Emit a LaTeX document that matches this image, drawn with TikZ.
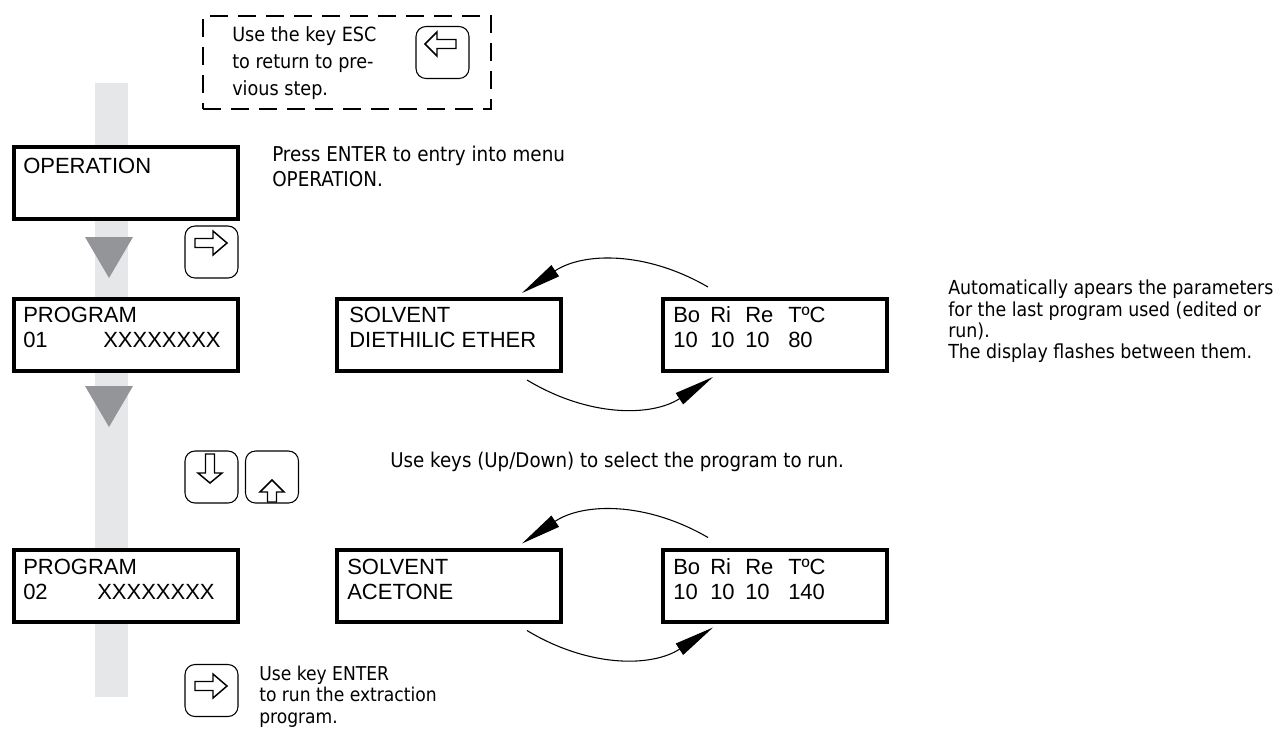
\documentclass[tikz,border=0pt]{standalone}
\usepackage{fontspec}
\setmainfont{Liberation Sans}
\newfontfamily\tahoma{DejaVu Sans Condensed}
\usetikzlibrary{arrows.meta,calc}
\definecolor{band}{RGB}{230,231,232}
\definecolor{tri}{RGB}{147,149,152}
\tikzset{
  lcd/.style={draw, fill=white, line width=3pt, minimum width=168pt, minimum height=54pt, inner sep=0pt, outer sep=0pt},
  lcdtext/.style={anchor=base west, inner sep=0pt, align=left, font=\fontsize{16.5}{18.4}\selectfont},
  note/.style={anchor=base west, inner sep=0pt, align=left, font=\tahoma\fontsize{15.2}{15.9}\selectfont},
  key/.style={draw, line width=0.8pt, rounded corners=7.5pt, minimum width=39.75pt, minimum height=39pt, inner sep=0pt},
  keyarrow/.style={draw, fill=white, line width=1.1pt, line join=miter},
  flow/.style={line width=0.8pt, -{Triangle[length=30pt,width=10pt]}},
  pics/karrow/.style n args={3}{code={\draw[keyarrow] (#1,-4.5) -- (#2,-4.5) -- (#2,-12) -- (#3,0) -- (#2,12) -- (#2,4.5) -- (#1,4.5) -- cycle;}}
}
\begin{document}
\begin{tikzpicture}[x=0.75pt,y=-0.75pt]
\useasboundingbox (0,0) rectangle (1276,729);
% grey flow band
\fill[band] (95,83) rectangle (128,697);
\fill[tri] (85,237) -- (133,237) -- (109,278) -- cycle;
\fill[tri] (85,386) -- (133,386) -- (109,427) -- cycle;

% ESC hint
\node[draw, line width=1.5pt, dash pattern=on 13.5pt off 7.5pt, minimum width=216pt, minimum height=69.75pt, inner sep=0pt] (escbox) at (347,62.5) {};
\node[note, font=\tahoma\fontsize{14.7}{20.25}\selectfont] (esctext) at (232,95) {Use the key ESC\\to return to pre-\\vious step.};
\node[key] (kesc) at (442.5,52.5) {};
\pic[rotate=180] at ($(kesc.center)+(-1,-8.5)$) {karrow={-14.5}{4.5}{16.5}};

% displays
\node[lcd] (op) at (126,182.5) {};
\node[lcdtext] (optext) at (23,173) {OPERATION};
\node[lcd] (prog1) at (126,335) {};
\node[lcdtext] (prog1text) at (23,347.5) {PROGRAM\\\makebox[60pt][l]{01}XXXXXXXX};
\node[lcd] (solv1) at (448.5,335) {};
\node[lcdtext] (solv1text) at (349,347.5) {SOLVENT\\DIETHILIC ETHER};
\node[lcd] (bo1) at (775,335) {};
\node[lcdtext] (bo1text) at (673,347.5) {\makebox[27.75pt][l]{Bo}\makebox[26.25pt][l]{Ri}\makebox[32.25pt][l]{Re}TºC\\\makebox[27.75pt][l]{10}\makebox[26.25pt][l]{10}\makebox[32.25pt][l]{10}80};
\node[lcd] (prog2) at (126,585.5) {};
\node[lcdtext] (prog2text) at (23,599.5) {PROGRAM\\\makebox[55.5pt][l]{02}XXXXXXXX};
\node[lcd] (solv2) at (448.5,585.5) {};
\node[lcdtext] (solv2text) at (347,599.5) {SOLVENT\\ACETONE};
\node[lcd] (bo2) at (775,585.5) {};
\node[lcdtext] (bo2text) at (673,599.5) {\makebox[27.75pt][l]{Bo}\makebox[26.25pt][l]{Ri}\makebox[32.25pt][l]{Re}TºC\\\makebox[27.75pt][l]{10}\makebox[26.25pt][l]{10}\makebox[32.25pt][l]{10}140};

% keys
\node[key] (kent1) at (211.5,252) {};
\pic at ($(kent1.center)+(0,-9)$) {karrow={-16.5}{1.5}{15.5}};
\node[key] (kdown) at (211.5,477) {};
\pic[rotate=-90] at ($(kdown.center)+(-1.5,0)$) {karrow={-23}{-4}{6}};
\node[key] (kup) at (272,477) {};
\pic[rotate=90] at (kup.center) {karrow={-25}{-15}{-3}};
\node[key] (kent2) at (211.5,690.5) {};
\pic at ($(kent2.center)+(0,-4.5)$) {karrow={-16.5}{1.5}{15.5}};

% notes
\node[note, font=\tahoma\fontsize{15.3}{18.75}\selectfont] (enternote) at (272,186) {Press ENTER to entry into menu\\OPERATION.};
\node[note] (selnote) at (390,467) {Use keys (Up/Down) to select the program to run.};
\node[note, font=\tahoma\fontsize{14.3}{15.9}\selectfont] (runnote) at (259,723) {Use key ENTER\\to run the extraction\\program.};
\node[note, font=\tahoma\fontsize{14.5}{15.9}\selectfont] (autonote) at (948,358.5) {Automatically apears the parameters\\for the last program used (edited or\\run).\\The display flashes between them.};

% flashing cycles
\coordinate (a1s) at ($(bo1.north west)+(45,-12)$);
\coordinate (a1e) at ($(solv1.north east)+(-38.5,-6)$);
\coordinate (b1s) at ($(solv1.south east)+(-33.5,9)$);
\coordinate (b1e) at ($(bo1.south west)+(50,6)$);
\coordinate (a2s) at ($(bo2.north west)+(45,-12)$);
\coordinate (a2e) at ($(solv2.north east)+(-38.5,-6)$);
\coordinate (b2s) at ($(solv2.south east)+(-33.5,9)$);
\coordinate (b2e) at ($(bo2.south west)+(50,6)$);
\foreach \s/\e in {a1s/a1e, b1s/b1e, a2s/a2e, b2s/b2e}{
  \draw[flow] (\s) to[bend right=32] (\e);
}
\end{tikzpicture}
\end{document}
